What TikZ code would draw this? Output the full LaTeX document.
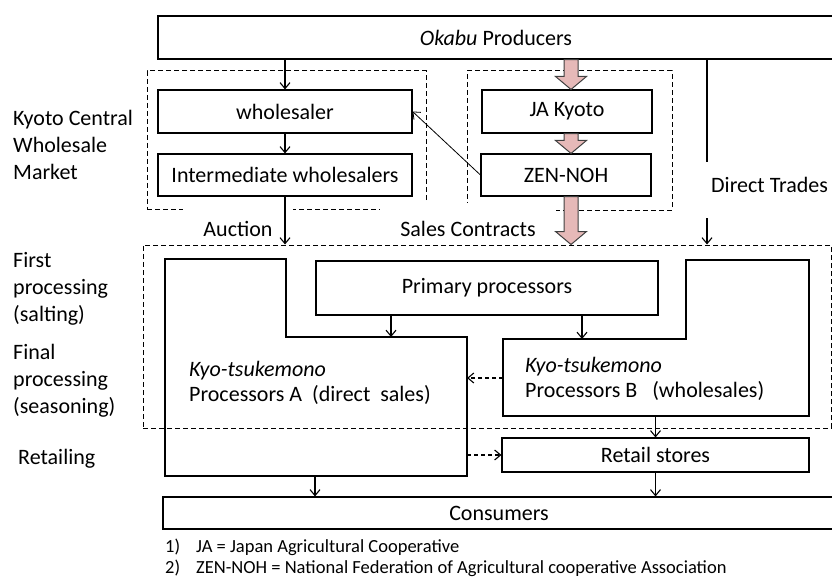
\documentclass[tikz,border=0pt]{standalone}
\usepackage{fontspec}
\setmainfont{Carlito}
\usepackage{tikz}
\usetikzlibrary{arrows.meta}
\usetikzlibrary{calc}

\definecolor{pinkfill}{HTML}{E6B9B8}
\newcommand{\bigtext}{\fontsize{22}{25}\selectfont}
\newcommand{\sidetext}{\fontsize{22}{27}\selectfont}
\newcommand{\notetext}{\fontsize{18.5}{20.5}\selectfont}

\tikzset{
  box/.style={draw, line width=1.1pt, inner sep=0pt, font=\bigtext},
  zone/.style={draw, dash pattern=on 5pt off 3pt, line width=1pt, inner sep=0pt},
  arr/.style={-{Straight Barb[length=6pt,width=10pt]}, line width=1.1pt},
  tag/.style={fill=white, inner xsep=20pt, inner ysep=0pt, font=\bigtext},
  side/.style={align=left, anchor=north west, inner sep=0pt, font=\sidetext},
  blockarr/.style={draw=black!75, fill=pinkfill, line width=1pt},
}

% pink block arrow between two points
\newcommand{\blockarrow}[2]{%
  \draw[blockarr] let \p1=(#1), \p2=(#2) in
    (\x1-7pt,\y1) -- (\x1-7pt,\y2+13pt) -- (\x1-15.5pt,\y2+13pt) -- (\x2,\y2)
    -- (\x1+15.5pt,\y2+13pt) -- (\x1+7pt,\y2+13pt) -- (\x1+7pt,\y1) -- cycle;}

\begin{document}
\begin{tikzpicture}[x=1pt,y=-1pt]
\useasboundingbox (0,0) rectangle (832,580);

% dashed zones
\node[zone, minimum width=279pt, minimum height=138pt] (marketzone) at (286.5,140) {};
\node[zone, minimum width=205pt, minimum height=139pt] (jazone) at (569.5,140.5) {};
\node[zone, minimum width=688pt, minimum height=183pt] (proczone) at (487,336.5) {};

% boxes
\node[box, minimum width=676pt, minimum height=43pt] (producers) at (496,37.5) {\textit{Okabu} Producers};
\node[box, minimum width=254pt, minimum height=43pt] (wholesaler) at (285,111.5) {wholesaler};
\node[box, minimum width=254pt, minimum height=42pt] (inter) at (285,175) {Intermediate wholesalers};
\node[box, minimum width=170pt, minimum height=43pt] (jakyoto) at (567,111.5) {JA Kyoto};
\node[box, minimum width=170pt, minimum height=42pt] (zennoh) at (566,175) {ZEN-NOH};
\node[box, minimum width=342pt, minimum height=54pt] (primary) at (487,288) {Primary processors};
\node[box, minimum width=307pt, minimum height=34pt] (retail) at (655.5,455) {Retail stores};
\node[box, minimum width=672pt, minimum height=32pt] (consumers) at (499,513) {Consumers};

% processors A and B
\draw[line width=1.1pt] (165,259) -- (286,259) -- (286,337) -- (467,337) -- (467,476) -- (165,476) -- cycle;
\draw[line width=1.1pt] (686,260) -- (809,260) -- (809,416) -- (503,416) -- (503,339) -- (686,339) -- cycle;
\node[side, font=\bigtext] (procA) at (189,361) {\textit{Kyo-tsukemono}\\Processors A\ \ (direct\ \ sales)};
\node[side, font=\bigtext] (procB) at (525,357) {\textit{Kyo-tsukemono}\\Processors B\ \ \ (wholesales)};

\coordinate (aTop) at (391,337);
\coordinate (bTop) at (582,339);
\coordinate (aEast) at (467,378);
\coordinate (bWest) at (503,378);
\coordinate (aSide) at (467,455);
\coordinate (bBottom) at (656,416);
\coordinate (aBottom) at (315,476);
\coordinate (pk) at (571,0);
\coordinate (dt) at (707,0);

% stage labels
\node[side] (market) at (13,110) {Kyoto Central\\Wholesale\\Market};
\node[side] (first) at (13,252) {First\\processing\\(salting)};
\node[side] (final) at (13,344) {Final\\processing\\(seasoning)};
\node[side] (retailing) at (18,449) {Retailing};

\draw[arr] (producers.south -| dt) -- (proczone.north -| dt);

% trade labels
\node[tag, text height=31pt, text depth=8pt, anchor=base] (auction) at (238,236) {Auction};
\node[tag, text height=33pt, text depth=8pt, anchor=base] (sales) at (468,236) {Sales Contracts};
\node[tag, inner xsep=8pt, text height=31pt, text depth=25pt, anchor=base west] (direct) at (703,193) {Direct Trades};

% flows
\draw[arr] (producers.south -| wholesaler) -- (wholesaler.north);
\draw[arr] (wholesaler) -- (inter);
\draw[arr] (inter) -- (proczone.north -| inter);
\draw[arr, line width=0.8pt] (zennoh.west) -- (wholesaler.east);
\blockarrow{producers.south -| pk}{jakyoto.north -| pk}
\blockarrow{jakyoto.south -| pk}{zennoh.north -| pk}
\blockarrow{zennoh.south -| pk}{proczone.north -| pk}
\draw[arr] (primary.south -| aTop) -- (aTop);
\draw[arr] (primary.south -| bTop) -- (bTop);
\draw[arr, dash pattern=on 4pt off 3pt] (bWest) -- (aEast);
\draw[arr, dash pattern=on 4pt off 3pt] (aSide) -- (retail.west);
\draw[arr] (retail.north |- bBottom) -- (retail.north);
\draw[arr] (aBottom) -- (consumers.north -| aBottom);
\draw[arr] (retail) -- (consumers.north -| retail);

% notes
\node[anchor=north west, inner sep=0pt, align=left, font=\notetext] (notes) at (165,539)
  {\makebox[31pt][l]{1)}JA = Japan Agricultural Cooperative\\
   \makebox[31pt][l]{2)}ZEN-NOH = National Federation of Agricultural cooperative Association};
\end{tikzpicture}
\end{document}
